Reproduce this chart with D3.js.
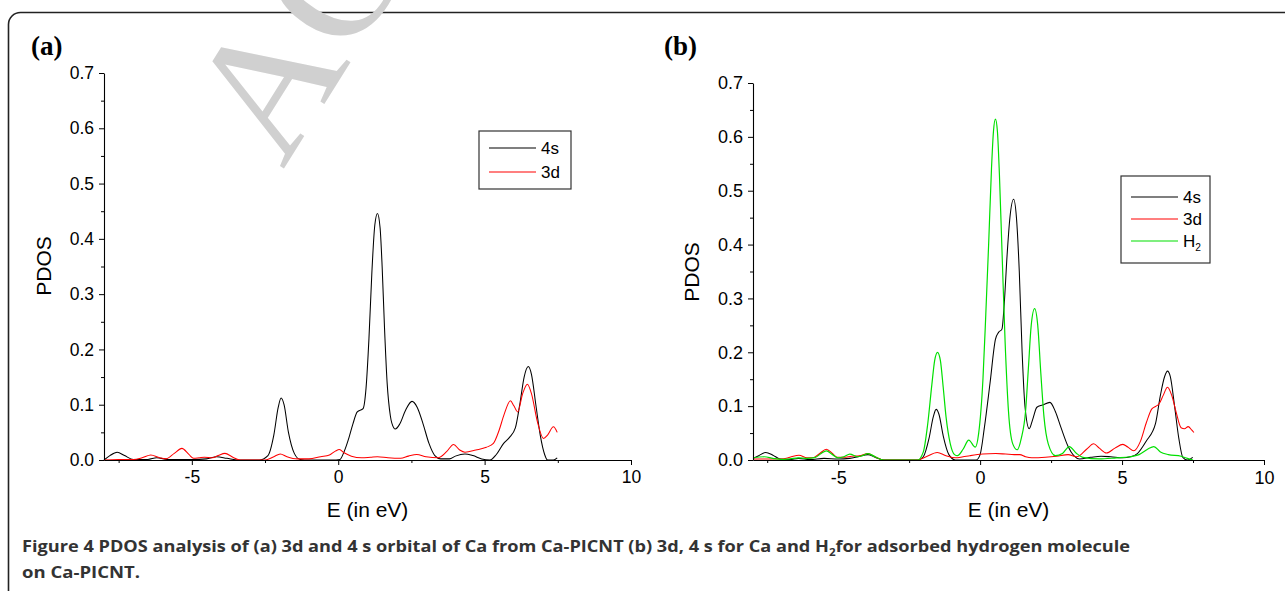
<!DOCTYPE html>
<html><head><meta charset="utf-8">
<script src="https://cdn.jsdelivr.net/npm/d3@7"></script>
<style>
body{margin:0;background:#fff}
svg{display:block}
</style></head>
<body><svg id="c" width="1285" height="591"></svg>
<script>
// ---------- data ----------
const xTicksMajor = [-5, 0, 5, 10];
const xTicksMinor = [-7.5, -2.5, 2.5, 7.5];
const yTicksMajor = [0, 0.1, 0.2, 0.3, 0.4, 0.5, 0.6, 0.7];
const yTicksMinor = [0.05, 0.15, 0.25, 0.35, 0.45, 0.55, 0.65];

// panel (a) 4s
const aE4s = [-8,-7.8,-7.55,-7.3,-7.0,-6.5,-6.2,-5.8,-5.0,-4.5,-4.15,-3.8,-3.4,-2.7,-2.4,-2.2,-2.05,-1.95,-1.85,-1.7,-1.5,-1.3,-1.0,-0.2,0.06,0.2,0.37,0.5,0.65,0.85,0.95,1.05,1.15,1.25,1.34,1.43,1.5,1.58,1.67,1.78,1.9,1.95,2.1,2.3,2.52,2.7,2.9,3.1,3.3,3.5,3.8,4.0,4.33,4.6,4.9,5.18,5.4,5.65,5.85,6.05,6.2,6.35,6.49,6.6,6.75,6.9,7.05,7.15,7.35,7.48];
const aV4s = [0,0.008,0.014,0.008,0.001,0.001,0.004,0.001,0.001,0.002,0.006,0.003,0,0,0.008,0.045,0.095,0.112,0.1,0.05,0.012,0.001,0,0,0.001,0.015,0.041,0.065,0.087,0.093,0.13,0.22,0.34,0.425,0.446,0.42,0.35,0.24,0.14,0.08,0.058,0.056,0.065,0.09,0.106,0.095,0.065,0.03,0.008,0.002,0.002,0.007,0.011,0.008,0.002,0,0.01,0.03,0.041,0.058,0.1,0.15,0.169,0.155,0.1,0.045,0.01,0,0,0.004];
// panel (a) 3d
const aE3d = [-8,-7.5,-7.0,-6.7,-6.4,-6.1,-5.9,-5.6,-5.34,-5.1,-4.94,-4.75,-4.57,-4.3,-4.1,-3.87,-3.6,-3.35,-2.5,-2.2,-1.98,-1.75,-1.4,-1.0,-0.6,-0.3,-0.1,0.04,0.2,0.45,0.8,1.1,1.34,1.7,2.13,2.4,2.68,3.0,3.41,3.7,3.94,4.15,4.33,4.7,5.06,5.3,5.49,5.67,5.88,6.0,6.13,6.3,6.46,6.6,6.8,7.01,7.15,7.35,7.48];
const aV3d = [0,0.001,0.001,0.004,0.009,0.004,0.002,0.012,0.021,0.01,0.003,0.004,0.005,0.004,0.008,0.012,0.005,0,0,0.006,0.011,0.006,0.002,0.002,0.006,0.009,0.016,0.019,0.013,0.007,0.004,0.005,0.006,0.004,0.003,0.007,0.01,0.006,0.004,0.015,0.028,0.018,0.014,0.018,0.023,0.03,0.053,0.083,0.107,0.098,0.087,0.12,0.137,0.12,0.07,0.039,0.045,0.06,0.05];

// panel (b) 4s
const bE4s = [-8,-7.8,-7.55,-7.3,-7.05,-6.7,-6.4,-6.0,-5.5,-5.0,-4.6,-4.3,-3.95,-3.7,-3.4,-2.2,-2.0,-1.8,-1.65,-1.55,-1.45,-1.3,-1.1,-0.87,-0.14,0.0,0.15,0.35,0.54,0.65,0.77,0.85,0.95,1.05,1.18,1.28,1.38,1.48,1.58,1.73,1.85,2.0,2.2,2.46,2.65,2.85,3.1,3.3,3.5,3.9,4.26,4.6,5.03,5.3,5.54,5.85,6.18,6.35,6.5,6.6,6.7,6.85,7.0,7.14,7.3,7.49];
const bV4s = [0.003,0.008,0.014,0.009,0.002,0.001,0.003,0.001,0.003,0.002,0.003,0.006,0.01,0.005,0,0,0.006,0.04,0.08,0.094,0.085,0.045,0.01,0,0,0.01,0.06,0.143,0.224,0.237,0.243,0.29,0.38,0.45,0.484,0.45,0.35,0.2,0.1,0.058,0.075,0.098,0.102,0.107,0.09,0.06,0.025,0.008,0.002,0.005,0.007,0.006,0.004,0.006,0.012,0.035,0.068,0.12,0.155,0.165,0.155,0.1,0.04,0.005,0,0.005];
// panel (b) 3d
const bE3d = [-8,-7.5,-7.0,-6.7,-6.38,-6.1,-5.9,-5.65,-5.42,-5.2,-5.04,-4.8,-4.53,-4.25,-3.95,-3.7,-3.4,-2.2,-1.9,-1.51,-1.2,-0.87,-0.6,-0.36,0.09,0.55,0.9,1.2,1.4,1.6,1.82,2.3,2.7,3.1,3.4,3.75,4.0,4.2,4.45,4.75,5.03,5.2,5.41,5.65,5.86,6.05,6.2,6.3,6.45,6.6,6.75,6.9,7.08,7.2,7.33,7.45,7.53];
const bV3d = [0.002,0.002,0.002,0.005,0.009,0.004,0.004,0.012,0.02,0.012,0.005,0.005,0.007,0.008,0.012,0.006,0,0,0.006,0.014,0.008,0.004,0.006,0.008,0.011,0.012,0.011,0.01,0.01,0.006,0.004,0.005,0.007,0.01,0.006,0.02,0.03,0.022,0.013,0.022,0.029,0.024,0.017,0.035,0.07,0.095,0.1,0.104,0.12,0.135,0.12,0.09,0.06,0.058,0.062,0.056,0.051];
// panel (b) H2
const bEH2 = [-8,-7.6,-7.3,-7.0,-6.7,-6.4,-6.1,-5.8,-5.6,-5.42,-5.2,-5.0,-4.8,-4.59,-4.3,-4.15,-3.95,-3.7,-3.4,-2.2,-2.0,-1.85,-1.7,-1.6,-1.5,-1.4,-1.3,-1.2,-1.05,-0.9,-0.8,-0.6,-0.4,-0.17,-0.05,0.1,0.2,0.3,0.4,0.47,0.54,0.61,0.68,0.77,0.88,1.0,1.15,1.31,1.45,1.6,1.7,1.8,1.92,2.03,2.14,2.25,2.4,2.65,2.9,3.14,3.4,3.62,4.2,4.8,5.28,5.6,5.9,6.12,6.35,6.63,7.08,7.3,7.5];
const bVH2 = [0.004,0.006,0.003,0.001,0.002,0.004,0.003,0.005,0.012,0.017,0.01,0.004,0.006,0.011,0.006,0.008,0.012,0.006,0,0,0.015,0.065,0.14,0.185,0.2,0.185,0.135,0.08,0.03,0.01,0.008,0.02,0.037,0.024,0.05,0.15,0.27,0.4,0.54,0.61,0.633,0.61,0.53,0.39,0.22,0.09,0.03,0.019,0.04,0.09,0.17,0.25,0.281,0.25,0.16,0.08,0.03,0.008,0.012,0.025,0.012,0.005,0.002,0.004,0.006,0.01,0.02,0.025,0.015,0.01,0.007,0.003,0];

const seriesNames = ["4s", "3d", "H2"];
const seriesColors = {"4s": "#000000", "3d": "#ff0000", "H2": "#00e000"};

// ---------- drawing ----------
const svg = d3.select("#c");
const FONT = "'Liberation Sans', Arial, Helvetica, sans-serif";

// outer frame
svg.append("rect").attr("x", 8.5).attr("y", 12.5).attr("width", 1320).attr("height", 640)
  .attr("rx", 12).attr("fill", "none").attr("stroke", "#222").attr("stroke-width", 1.6);

// watermark (partially off the top edge, as in the reference)
svg.append("text").attr("transform", "translate(283,170) rotate(-58)")
  .attr("font-family", "'Liberation Serif', 'Times New Roman', serif").attr("font-size", 178)
  .attr("fill", "#d0d0d0").text("AC");

function panel(opt) {
  const x = d3.scaleLinear().domain([-8, 10]).range([opt.x0, opt.x1]);
  const y = d3.scaleLinear().domain([0, 0.7]).range([opt.yb, opt.yt]);
  const g = svg.append("g");

  // series
  const line = d3.line().x(d => x(d[0])).y(d => y(d[1])).curve(d3.curveMonotoneX);
  opt.series.forEach(s => {
    const pts = s.E.map((e, i) => [e, s.V[i]]);
    g.append("path").datum(pts).attr("d", line).attr("fill", "none")
      .attr("stroke", seriesColors[s.name]).attr("stroke-width", s.name === "H2" ? 1.2 : 1.05);
  });

  // axes
  const xa = g.append("g").attr("transform", `translate(0,${opt.yb})`)
    .call(d3.axisBottom(x).tickValues(xTicksMajor).tickSize(5).tickSizeOuter(0).tickPadding(6).tickFormat(d => String(d)));
  g.append("g").attr("transform", `translate(0,${opt.yb})`)
    .call(d3.axisBottom(x).tickValues(xTicksMinor).tickSize(3).tickSizeOuter(0).tickFormat(""))
    .select(".domain").remove();
  const ya = g.append("g").attr("transform", `translate(${opt.x0},0)`)
    .call(d3.axisLeft(y).tickValues(yTicksMajor).tickSize(5).tickSizeOuter(0).tickPadding(5).tickFormat(d3.format(".1f")));
  g.append("g").attr("transform", `translate(${opt.x0},0)`)
    .call(d3.axisLeft(y).tickValues(yTicksMinor).tickSize(3).tickSizeOuter(0).tickFormat(""))
    .select(".domain").remove();
  g.selectAll(".domain").attr("stroke", "#000").attr("stroke-width", 1.1);
  g.selectAll(".tick line").attr("stroke", "#000");
  [xa, ya].forEach(a => a.selectAll("text").attr("font-family", FONT).attr("font-size", opt.fs).attr("fill", "#000"));

  // axis titles
  g.append("text").attr("x", (opt.x0 + opt.x1) / 2).attr("y", 517).attr("text-anchor", "middle")
    .attr("font-family", FONT).attr("font-size", 21).text("E (in eV)");
  g.append("text").attr("transform", `translate(${opt.ytx},${opt.yty}) rotate(-90)`).attr("text-anchor", "middle")
    .attr("font-family", FONT).attr("font-size", 21).text("PDOS");

  // panel label
  svg.append("text").attr("x", opt.lx).attr("y", 55).attr("font-family", "'Liberation Serif','Times New Roman',serif")
    .attr("font-weight", "bold").attr("font-size", 27).text(opt.label);

  // legend
  const L = opt.legend;
  g.append("rect").attr("x", L.x).attr("y", L.y).attr("width", L.w).attr("height", L.h)
    .attr("fill", "#fff").attr("stroke", "#333").attr("stroke-width", 1.2);
  opt.series.forEach((s, i) => {
    const yy = L.y + L.first + i * L.step;
    g.append("line").attr("x1", L.x + 10).attr("x2", L.x + 57).attr("y1", yy).attr("y2", yy)
      .attr("stroke", seriesColors[s.name]).attr("stroke-width", 1.1);
    const t = g.append("text").attr("x", L.x + 62).attr("y", yy + 6).attr("font-family", FONT).attr("font-size", L.fs);
    if (s.name === "H2") {
      t.text("H");
      t.append("tspan").attr("font-size", L.fs * 0.6).attr("dy", 4).text("2");
    } else t.text(s.name);
  });
}

panel({
  x0: 104, x1: 631, yb: 460, yt: 73, fs: 17.5, label: "(a)", lx: 31, ytx: 51, yty: 266,
  series: [{name: "4s", E: aE4s, V: aV4s}, {name: "3d", E: aE3d, V: aV3d}],
  legend: {x: 479, y: 131, w: 92, h: 58, first: 17, step: 24, fs: 17}
});
panel({
  x0: 753, x1: 1264, yb: 460, yt: 83, fs: 18, label: "(b)", lx: 664, ytx: 699, yty: 272,
  series: [{name: "4s", E: bE4s, V: bV4s}, {name: "3d", E: bE3d, V: bV3d}, {name: "H2", E: bEH2, V: bVH2}],
  legend: {x: 1121, y: 176, w: 89, h: 87, first: 21, step: 22, fs: 17}
});

// caption
const CAP = "'Open Sans', 'Noto Sans', sans-serif";
const c1 = svg.append("text").attr("x", 22).attr("y", 552).attr("font-family", CAP).attr("font-weight", 700)
  .attr("font-size", 16.5).attr("fill", "#333").attr("textLength", 1108).attr("lengthAdjust", "spacingAndGlyphs");
c1.append("tspan").text("Figure 4 PDOS analysis of (a) 3d and 4 s orbital of Ca from Ca-PICNT (b) 3d, 4 s for Ca and H");
c1.append("tspan").attr("font-size", 10.5).attr("dy", 4).text("2");
c1.append("tspan").attr("dy", -4).text("for adsorbed hydrogen molecule");
svg.append("text").attr("x", 22).attr("y", 578).attr("font-family", CAP).attr("font-weight", 700)
  .attr("font-size", 16.5).attr("fill", "#333").attr("textLength", 118).attr("lengthAdjust", "spacingAndGlyphs")
  .text("on Ca-PICNT.");
</script></body></html>
